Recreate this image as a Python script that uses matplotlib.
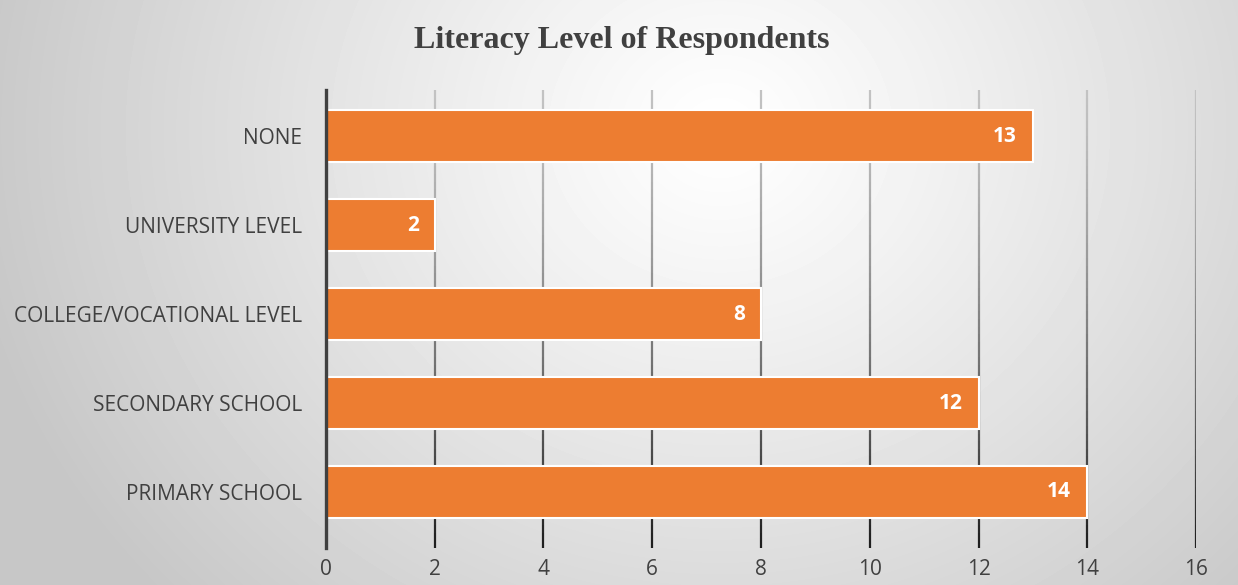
import matplotlib
matplotlib.use("Agg")
import matplotlib.pyplot as plt
import numpy as np
from matplotlib.collections import LineCollection

# data (bottom to top, as drawn)
categories = ["PRIMARY SCHOOL", "SECONDARY SCHOOL", "COLLEGE/VOCATIONAL LEVEL",
              "UNIVERSITY LEVEL", "NONE"]
counts = [14, 12, 8, 2, 13]
x_ticks = [0, 2, 4, 6, 8, 10, 12, 14, 16]

BAR_COLOR = "#ED7D31"
TEXT_COLOR = "#404040"


def background(fig):
    """Radial grey gradient behind everything"""
    w, h = 1238, 585
    yy, xx = np.mgrid[0:h, 0:w]
    cx, cy = 720, 130
    r = np.sqrt(((xx - cx) / 1.0) ** 2 + ((yy - cy) / 0.9) ** 2)
    r = np.clip(r / 760.0, 0, 1)
    shade = 1.0 - 0.22 * r ** 1.1
    bg = fig.add_axes([0, 0, 1, 1], zorder=-10)
    bg.imshow(shade, cmap="gray", vmin=0, vmax=1, aspect="auto",
              extent=[0, 1, 0, 1], origin="upper")
    bg.axis("off")


def gradient_grid(ax, xs, y0, y1, n=60):
    """Vertical gridlines that fade from light grey (top) to dark (bottom)"""
    segs, cols = [], []
    edges = np.linspace(y1, y0, n + 1)
    for x in xs:
        for k in range(n):
            segs.append([(x, edges[k]), (x, edges[k + 1])])
            t = k / (n - 1)
            g = 0.76 - 0.64 * t ** 1.4
            cols.append((g, g, g))
    lc = LineCollection(segs, colors=cols, linewidths=1.6, zorder=1)
    ax.add_collection(lc)


def main() -> None:
    fig = plt.figure(figsize=(12.38, 5.85), dpi=100)
    background(fig)

    ax = fig.add_axes([0.2633, 0.0632, 0.9661 - 0.2633, 0.8462 - 0.0632])
    ax.set_facecolor("none")

    ypos = np.arange(len(categories))
    ylo, yhi = -0.63, len(categories) - 1 + 0.52
    ax.set_xlim(0, 16)
    ax.set_ylim(ylo, yhi)

    gradient_grid(ax, x_ticks[1:], ylo, yhi)

    bars = ax.barh(ypos, counts, height=0.585, color=BAR_COLOR,
                   edgecolor="white", linewidth=1.5, zorder=3)
    for b, v in zip(bars, counts):
        ax.annotate(str(v), (b.get_width(), b.get_y() + b.get_height() / 2),
                    xytext=(-16, 0), textcoords="offset pixels",
                    ha="right", va="center", color="white", fontsize=15,
                    fontweight="bold", family="Open Sans", zorder=4)

    for s in ["top", "right", "bottom"]:
        ax.spines[s].set_visible(False)
    ax.spines["left"].set_color(TEXT_COLOR)
    ax.spines["left"].set_linewidth(2.4)
    ax.spines["left"].set_zorder(5)

    ax.set_yticks(ypos)
    ax.set_yticklabels(categories)
    ax.set_xticks(x_ticks)
    ax.set_xticklabels([str(t) for t in x_ticks])
    ax.tick_params(axis="both", length=0, labelsize=15, labelcolor=TEXT_COLOR)
    ax.tick_params(axis="y", pad=17)
    ax.tick_params(axis="x", pad=8)
    for lab in ax.get_xticklabels() + ax.get_yticklabels():
        lab.set_family("Open Sans")

    fig.text(0.502, 0.931, "Literacy Level of Respondents", ha="center",
             va="center", fontsize=23, fontweight="bold",
             family="Liberation Serif", color=TEXT_COLOR)

    fig.savefig("out.png", dpi=100)


if __name__ == "__main__":
    main()
